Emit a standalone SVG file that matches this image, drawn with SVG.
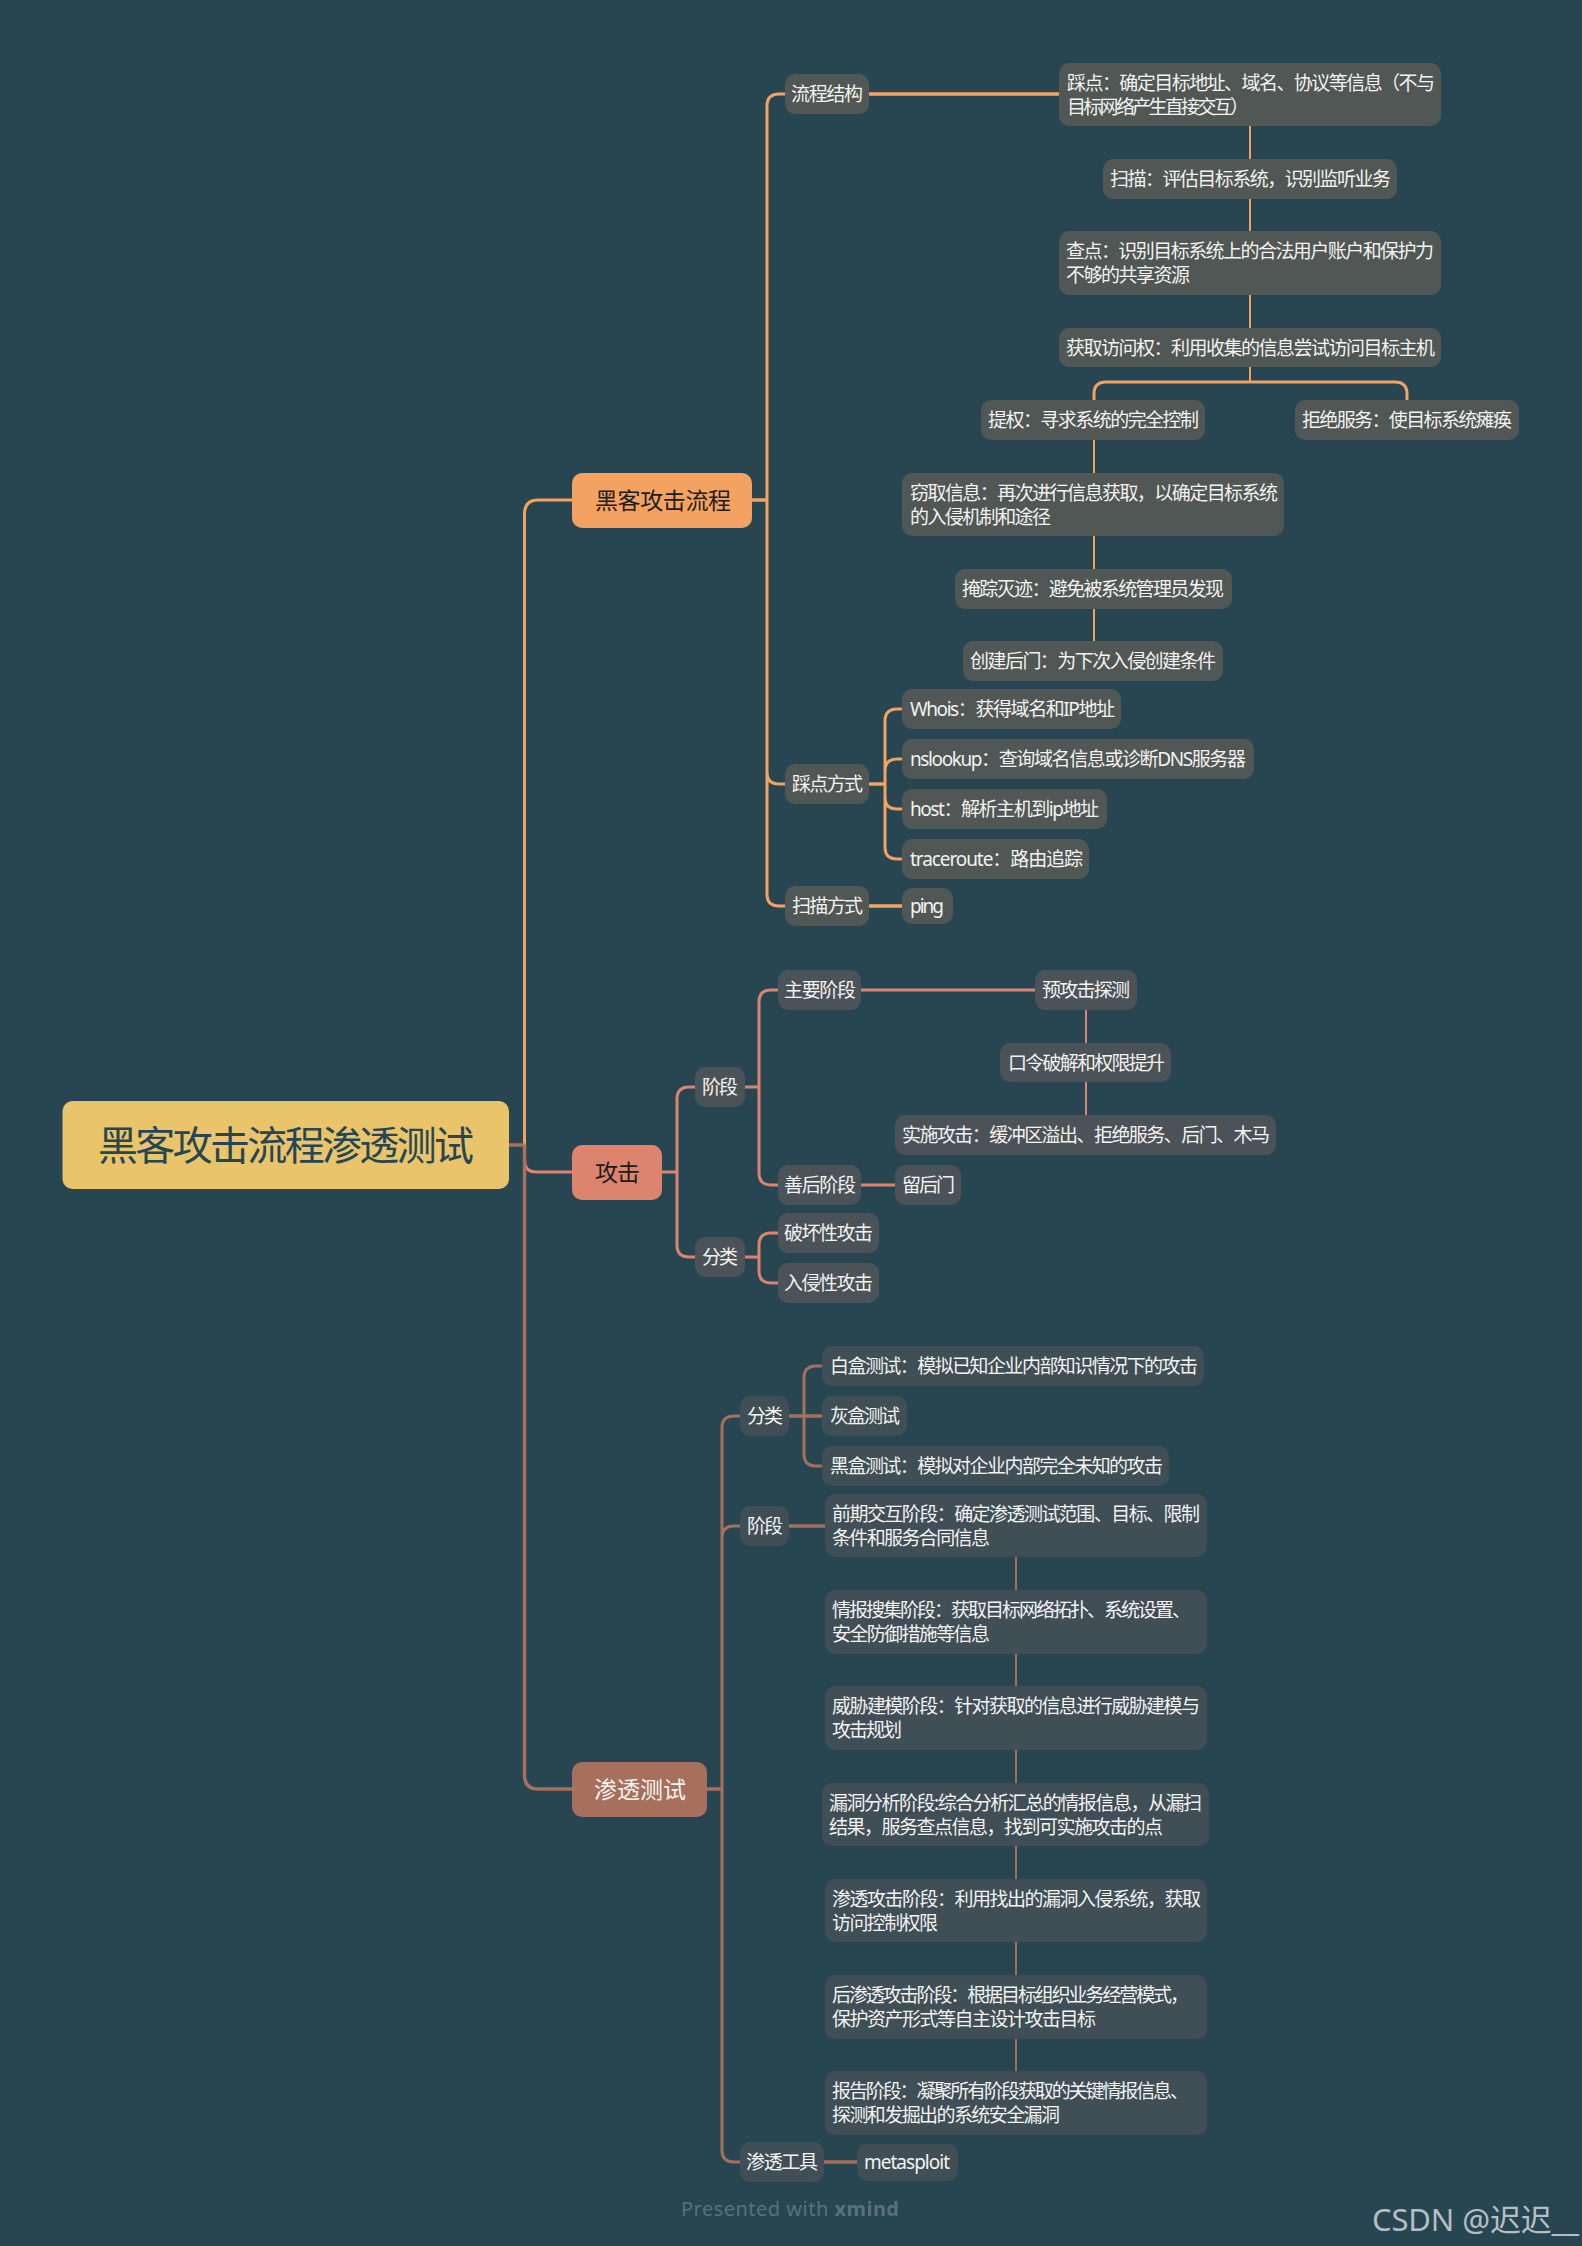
<svg xmlns="http://www.w3.org/2000/svg" width="1582" height="2246" viewBox="0 0 1582 2246">
<style>
text{font-family:"Noto Sans","Noto Sans CJK SC",sans-serif;font-size:19px;fill:#f3f3f1;transform:translateY(1px)}
.a rect{fill:#505754;rx:10px}
.b rect{fill:#4b5258;rx:10px}
.c rect{fill:#404e55;rx:10px}
.m rect{rx:10px}
.m text{font-size:23px}
path{fill:none;stroke-linecap:butt}
.o{stroke:#f4a261}.r{stroke:#dc846e}.p{stroke:#a6705c}
.t{stroke-width:3}.h{stroke-width:3.500}.v{stroke-width:2}
</style>
<rect width="1582" height="2246" fill="#284552"/>
<g id="connectors">
<path class="o t" d="M572,500H538Q524.500,500 524.500,514V1145"/>
<path class="r t" d="M524.500,1145V1160Q524.500,1172 536,1172H572"/>
<path class="p h" d="M509,1145H524.500M524.500,1145V1775Q524.500,1789 538,1789H572"/>
<path class="o h" d="M752,500H767M869,94H1059M869,784H885M869,906H902"/>
<path class="o t" d="M785,94H779Q767,94 767,106V894Q767,906 779,906H785M767,772Q767,784 779,784H785"/>
<path class="o v" d="M1250,126V159M1250,199V231M1250,295V328M1250,367V382M1094,440V473M1094,536V569M1094,609V641"/>
<path class="o t" d="M1094,400V394Q1094,382 1106,382H1395Q1407,382 1407,394V400"/>
<path class="o t" d="M902,709H897Q885,709 885,721V847Q885,859 897,859H902M902,759H897Q885,759 885,771M885,797Q885,809 897,809H902"/>
<path class="r t" d="M662,1172H677M745,1087H759M861,990H1035M861,1185H895M745,1257H759"/>
<path class="r t" d="M695,1087H689Q677,1087 677,1099V1245Q677,1257 689,1257H695"/>
<path class="r t" d="M778,990H771Q759,990 759,1002V1173Q759,1185 771,1185H778"/>
<path class="r t" d="M778,1233H771Q759,1233 759,1245V1271Q759,1283 771,1283H778"/>
<path class="r v" d="M1086,1010V1043M1086,1082V1115"/>
<path class="p h" d="M707,1789H722M789,1416H822M789,1526H825M824,2162H857"/>
<path class="p t" d="M740,1416H734Q722,1416 722,1428V2150Q722,2162 734,2162H740M740,1526H734Q722,1526 722,1538"/>
<path class="p t" d="M822,1366H816Q804,1366 804,1378V1454Q804,1466 816,1466H822"/>
<path class="p v" d="M1016,1557V1590M1016,1654V1686M1016,1750V1783M1016,1846V1879M1016,1942V1975M1016,2039V2071"/>
</g>
<g id="root"><rect x="62.500" y="1101" width="446.500" height="88" rx="10" fill="#e9c46a"/><text x="98" y="1159" textLength="376" style="font-size:40px;fill:#264653">黑客攻击流程渗透测试</text></g>
<g id="n-hacker" class="m"><rect x="572" y="473" width="180" height="55" fill="#f4a261"/><text x="595" y="508" textLength="136" style="fill:#1c1c1c">黑客攻击流程</text></g>
<g id="n-attack" class="m"><rect x="572" y="1145" width="90" height="55" fill="#dc846e"/><text x="595" y="1180" textLength="45" style="fill:#1c1c1c">攻击</text></g>
<g id="n-pentest" class="m"><rect x="572" y="1762" width="135" height="55" fill="#a6705c"/><text x="594" y="1797" textLength="92">渗透测试</text></g>
<g class="a">
<g id="a1"><rect x="785" y="74" width="84" height="40"/><text x="791" y="100" textLength="72">流程结构</text></g>
<g id="a2"><rect x="1059" y="63" width="382" height="63"/><text x="1067" y="89" textLength="368">踩点：确定目标地址、域名、协议等信息（不与</text><text x="1067" y="113" textLength="182">目标网络产生直接交互）</text></g>
<g id="a3"><rect x="1103" y="159" width="294" height="40"/><text x="1110" y="185" textLength="281">扫描：评估目标系统，识别监听业务</text></g>
<g id="a4"><rect x="1059" y="231" width="382" height="64"/><text x="1066" y="257" textLength="368">查点：识别目标系统上的合法用户账户和保护力</text><text x="1066" y="281" textLength="124">不够的共享资源</text></g>
<g id="a5"><rect x="1059" y="328" width="382" height="39"/><text x="1066" y="354" textLength="369">获取访问权：利用收集的信息尝试访问目标主机</text></g>
<g id="a6"><rect x="981" y="400" width="224" height="40"/><text x="988" y="426" textLength="211">提权：寻求系统的完全控制</text></g>
<g id="a7"><rect x="1295" y="400" width="224" height="40"/><text x="1302" y="426" textLength="210">拒绝服务：使目标系统瘫痪</text></g>
<g id="a8"><rect x="902" y="473" width="382" height="63"/><text x="910" y="499" textLength="368">窃取信息：再次进行信息获取，以确定目标系统</text><text x="910" y="523" textLength="141">的入侵机制和途径</text></g>
<g id="a9"><rect x="955" y="569" width="277" height="40"/><text x="962" y="595" textLength="262">掩踪灭迹：避免被系统管理员发现</text></g>
<g id="a10"><rect x="963" y="641" width="260" height="40"/><text x="970" y="667" textLength="246">创建后门：为下次入侵创建条件</text></g>
<g id="a11"><rect x="902" y="689" width="219" height="40"/><text x="910" y="715" textLength="205">Whois：获得域名和IP地址</text></g>
<g id="a12"><rect x="902" y="739" width="352" height="40"/><text x="910" y="765" textLength="336">nslookup：查询域名信息或诊断DNS服务器</text></g>
<g id="a13"><rect x="902" y="789" width="205" height="40"/><text x="910" y="815" textLength="189">host：解析主机到ip地址</text></g>
<g id="a14"><rect x="902" y="839" width="187" height="40"/><text x="910" y="865" textLength="173">traceroute：路由追踪</text></g>
<g id="a15"><rect x="785" y="764" width="84" height="40"/><text x="792" y="790" textLength="71">踩点方式</text></g>
<g id="a16"><rect x="785" y="886" width="84" height="40"/><text x="792" y="912" textLength="71">扫描方式</text></g>
<g id="a17"><rect x="902" y="888" width="51" height="36"/><text x="910" y="912" textLength="34">ping</text></g>
</g>
<g class="b">
<g id="b1"><rect x="695" y="1067" width="50" height="40"/><text x="702" y="1093" textLength="36">阶段</text></g>
<g id="b2"><rect x="695" y="1237" width="50" height="40"/><text x="702" y="1263" textLength="36">分类</text></g>
<g id="b3"><rect x="778" y="970" width="83" height="40"/><text x="784" y="996" textLength="72">主要阶段</text></g>
<g id="b4"><rect x="1035" y="970" width="102" height="40"/><text x="1042" y="996" textLength="88">预攻击探测</text></g>
<g id="b5"><rect x="1000" y="1043" width="171" height="39"/><text x="1008" y="1069" textLength="157">口令破解和权限提升</text></g>
<g id="b6"><rect x="895" y="1115" width="381" height="40"/><text x="902" y="1141" textLength="368">实施攻击：缓冲区溢出、拒绝服务、后门、木马</text></g>
<g id="b7"><rect x="778" y="1165" width="83" height="40"/><text x="784" y="1191" textLength="72">善后阶段</text></g>
<g id="b8"><rect x="895" y="1165" width="66" height="40"/><text x="902" y="1191" textLength="53">留后门</text></g>
<g id="b9"><rect x="778" y="1213" width="101" height="40"/><text x="784" y="1239" textLength="89">破坏性攻击</text></g>
<g id="b10"><rect x="778" y="1263" width="101" height="40"/><text x="784" y="1289" textLength="89">入侵性攻击</text></g>
</g>
<g class="c">
<g id="c1"><rect x="740" y="1396" width="49" height="40"/><text x="747" y="1422" textLength="36">分类</text></g>
<g id="c2"><rect x="740" y="1506" width="49" height="40"/><text x="747" y="1532" textLength="36">阶段</text></g>
<g id="c3"><rect x="740" y="2142" width="84" height="40"/><text x="746" y="2168" textLength="72">渗透工具</text></g>
<g id="c4"><rect x="822" y="1346" width="382" height="40"/><text x="830" y="1372" textLength="368">白盒测试：模拟已知企业内部知识情况下的攻击</text></g>
<g id="c5"><rect x="822" y="1396" width="85" height="40"/><text x="830" y="1422" textLength="70">灰盒测试</text></g>
<g id="c6"><rect x="822" y="1446" width="347" height="40"/><text x="830" y="1472" textLength="333">黑盒测试：模拟对企业内部完全未知的攻击</text></g>
<g id="c7"><rect x="825" y="1494" width="382" height="63"/><text x="832" y="1520" textLength="368">前期交互阶段：确定渗透测试范围、目标、限制</text><text x="832" y="1544" textLength="158">条件和服务合同信息</text></g>
<g id="c8"><rect x="825" y="1590" width="382" height="64"/><text x="832" y="1616" textLength="359">情报搜集阶段：获取目标网络拓扑、系统设置、</text><text x="832" y="1640" textLength="158">安全防御措施等信息</text></g>
<g id="c9"><rect x="825" y="1686" width="382" height="64"/><text x="832" y="1712" textLength="368">威胁建模阶段：针对获取的信息进行威胁建模与</text><text x="832" y="1736" textLength="70">攻击规划</text></g>
<g id="c10"><rect x="822" y="1783" width="387" height="63"/><text x="829" y="1809" textLength="373">漏洞分析阶段:综合分析汇总的情报信息，从漏扫</text><text x="829" y="1833" textLength="334">结果，服务查点信息，找到可实施攻击的点</text></g>
<g id="c11"><rect x="825" y="1879" width="382" height="63"/><text x="832" y="1905" textLength="369">渗透攻击阶段：利用找出的漏洞入侵系统，获取</text><text x="832" y="1929" textLength="106">访问控制权限</text></g>
<g id="c12"><rect x="825" y="1975" width="382" height="64"/><text x="832" y="2001" textLength="357">后渗透攻击阶段：根据目标组织业务经营模式，</text><text x="832" y="2025" textLength="264">保护资产形式等自主设计攻击目标</text></g>
<g id="c13"><rect x="825" y="2071" width="382" height="64"/><text x="832" y="2097" textLength="357">报告阶段：凝聚所有阶段获取的关键情报信息、</text><text x="832" y="2121" textLength="228">探测和发掘出的系统安全漏洞</text></g>
<g id="c14"><rect x="857" y="2144" width="101" height="37"/><text x="864" y="2168" textLength="86">metasploit</text></g>
</g>
<text x="681" y="2215" textLength="218" style="font-size:20px;fill:#5a7178">Presented with <tspan font-weight="bold">xmind</tspan></text>
<text x="1372" y="2230" textLength="207" style="font-size:31px;fill:#b4bfc3">CSDN @迟迟__</text>
</svg>
